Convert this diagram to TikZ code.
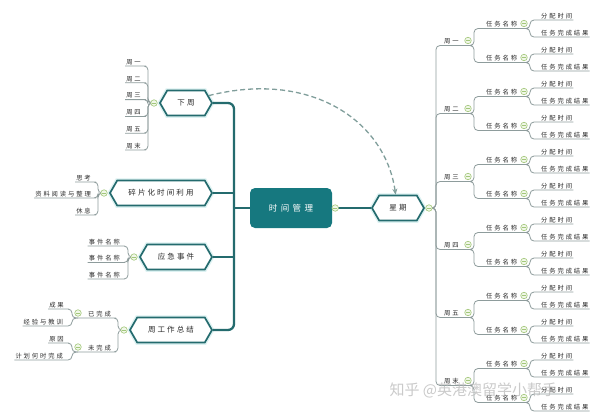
\documentclass[tikz,border=0pt]{standalone}
\usepackage{fontspec}
\usetikzlibrary{shapes.symbols, arrows.meta}

\newfontfamily\cjk{Noto Sans CJK SC}
\newfontfamily\leaffont[LetterSpace=30]{Noto Sans CJK SC}
\newfontfamily\hexfont[LetterSpace=28]{Noto Sans CJK SC}
\newfontfamily\corefont[LetterSpace=40]{Noto Sans CJK SC}

\definecolor{branchteal}{HTML}{246B6E}
\definecolor{coreteal}{HTML}{16787F}
\definecolor{twiggray}{HTML}{8E9C9C}
\definecolor{knobline}{HTML}{A3C77A}
\definecolor{knobfill}{HTML}{F0F7E8}
\definecolor{dashgray}{HTML}{809E9B}
\definecolor{glow}{HTML}{DDF2F2}
\definecolor{inkdark}{HTML}{2A2A2A}

\tikzset{
  leaf/.style={font=\leaffont\fontsize{6.3}{7.5}\selectfont, text=inkdark, inner sep=1pt},
  hexa/.style={signal, signal to=east and west, signal pointer angle=120,
    draw=branchteal, line width=1.7pt, fill=white, minimum height=25pt,
    preaction={draw=glow, line width=4.5pt},
    font=\hexfont\fontsize{7.5}{9}\selectfont, text=inkdark, inner sep=2pt},
  core/.style={rectangle, rounded corners=5pt, fill=coreteal, text=white,
    minimum width=82pt, minimum height=40pt,
    font=\corefont\fontsize{8.5}{10}\selectfont},
  trunk/.style={draw=branchteal, line width=2.3pt, rounded corners=6pt},
  stem/.style={draw=branchteal, line width=1.4pt},
  twig/.style={draw=twiggray, line width=0.8pt, rounded corners=4pt},
  knob/.style={circle, draw=knobline, fill=knobfill, line width=0.6pt,
    minimum size=6.5pt, inner sep=0pt,
    path picture={\draw[knobline, line width=0.6pt]
      ([xshift=-1.8pt]path picture bounding box.center) --
      ([xshift=1.8pt]path picture bounding box.center);}},
  dasharrow/.style={draw=dashgray, line width=1.3pt, dash pattern=on 5pt off 3pt,
    -{Stealth[length=6pt, width=5pt]}},
  wmark/.style={font=\cjk\fontsize{15}{17}\selectfont, text=gray!55, opacity=0.75}
}

\begin{document}
\begin{tikzpicture}[x=1pt, y=-1pt]
\fill[white] (0,0) rectangle (600,416);
\useasboundingbox (0,0) rectangle (600,416);

% centre and main topics
\node[core] (core) at (291,208) {时间管理};
\node[hexa, minimum width=52pt] (xia) at (186,103) {下周};
\node[hexa, minimum width=102pt] (sp) at (161,193) {碎片化时间利用};
\node[hexa, minimum width=72pt] (yj) at (176,257) {应急事件};
\node[hexa, minimum width=82pt] (zj) at (171,330) {周工作总结};
\node[hexa, minimum width=52pt] (xq) at (398,208) {星期};

% knob positions
\coordinate (corek) at ([xshift=3pt]core.east);
\coordinate (xqk) at ([xshift=4pt]xq.east);
\coordinate (xiak) at ([xshift=-5pt]xia.west);
\coordinate (spk) at ([xshift=-5pt]sp.west);
\coordinate (yjk) at ([xshift=-5pt]yj.west);
\coordinate (zjk) at ([xshift=-5pt]zj.west);

% left trunk
\coordinate (hubL) at (234,208);
\draw[trunk] (xia.east) -| (hubL) |- (zj.east);
\draw[trunk] (core.west) -- (hubL);
\draw[trunk, sharp corners] (sp.east) -- (sp.east -| hubL);
\draw[trunk, sharp corners] (yj.east) -- (yj.east -| hubL);
\draw[stem] (core.east) -- (xq.west);

% dashed relation
\draw[dasharrow] (xia.18) .. controls (310,70) and (385,120) .. (xq.100);

% 下周
\foreach \d [count=\i from 0] in {一,二,三,四,五,末}
  \node[leaf, anchor=south east] (x\i) at (142,66+16.8*\i) {周\d};
\foreach \i in {0,...,5}
  \draw[twig] (xiak) -- ++(-6,0) |- (x\i.south east) -- (x\i.south west);

% 碎片化时间利用
\node[leaf, anchor=south east] (s0) at (92,182) {思考};
\node[leaf, anchor=south east] (s1) at (92,198) {资料阅读与整理};
\node[leaf, anchor=south east] (s2) at (92,215) {休息};
\foreach \i in {0,1,2}
  \draw[twig] (spk) -- ++(-6,0) |- (s\i.south east) -- (s\i.south west);

% 应急事件
\foreach \i in {0,1,2}{
  \node[leaf, anchor=south east] (e\i) at (121,246+16.5*\i) {事件名称};
  \draw[twig] (yjk) -- ++(-6,0) |- (e\i.south east) -- (e\i.south west);
}

% 周工作总结
\node[leaf, anchor=south east] (ywc) at (112,318) {已完成};
\node[leaf, anchor=south east] (wwc) at (112,352) {未完成};
\coordinate (ywk) at (78,313);
\coordinate (wwk) at (78,347);
\node[leaf, anchor=south east] (cg) at (65,309) {成果};
\node[leaf, anchor=south east] (jy) at (64,326) {经验与教训};
\node[leaf, anchor=south east] (yy) at (65,343) {原因};
\node[leaf, anchor=south east] (jh) at (64,360) {计划何时完成};
\draw[twig] (zjk) -- ++(-6,0) |- (ywc.south east) -- (ywk |- ywc.south) -- ++(-6,0) |- (cg.south east) -- (cg.south west);
\draw[twig] (ywk |- ywc.south) -- ++(-6,0) |- (jy.south east) -- (jy.south west);
\draw[twig] (zjk) -- ++(-6,0) |- (wwc.south east) -- (wwk |- wwc.south) -- ++(-6,0) |- (yy.south east) -- (yy.south west);
\draw[twig] (wwk |- wwc.south) -- ++(-6,0) |- (jh.south east) -- (jh.south west);

% 星期
\foreach \d [count=\k from 0] in {一,二,三,四,五,末}{
  \node[leaf, anchor=south west] (w\k) at (443,45.5+68*\k) {周\d};
  \coordinate (wk\k) at (468,40.5+68*\k);
  \draw[twig] (xqk) -- ++(7,0) |- (w\k.south west);
  \foreach \m in {0,1}{
    \pgfmathtruncatemacro\j{2*\k+\m}
    \pgfmathtruncatemacro\ia{2*\j}
    \pgfmathtruncatemacro\ib{2*\j+1}
    \node[leaf, anchor=south west] (t\j) at (485,28.5+34*\j) {任务名称};
    \coordinate (tk\j) at (524,23.5+34*\j);
    \draw[twig] (w\k.south west) -- (wk\k |- w\k.south) -- ++(6,0) |- (t\j.south west) -- (t\j.south east);
    \node[leaf, anchor=south west] (l\ia) at (540,20+17*\ia) {分配时间};
    \node[leaf, anchor=south west] (l\ib) at (540,20+17*\ib) {任务完成结果};
    \draw[twig] (t\j.south west) -- (tk\j |- t\j.south) -- ++(6,0) |- (l\ia.south west) -- (l\ia.south east);
    \draw[twig] (tk\j |- t\j.south) -- ++(6,0) |- (l\ib.south west) -- (l\ib.south east);
  }
}

% knobs on top
\foreach \c in {corek,xqk,xiak,spk,yjk,zjk,ywk,wwk}
  \node[knob] (\c-o) at (\c) {};
\foreach \k in {0,...,5}
  \node[knob] (wk\k-o) at (wk\k) {};
\foreach \j in {0,...,11}
  \node[knob] (tk\j-o) at (tk\j) {};

% watermark
\node[wmark, anchor=west] (wm) at (386,390) {知乎 @英港澳留学小帮手};
\end{tikzpicture}
\end{document}
